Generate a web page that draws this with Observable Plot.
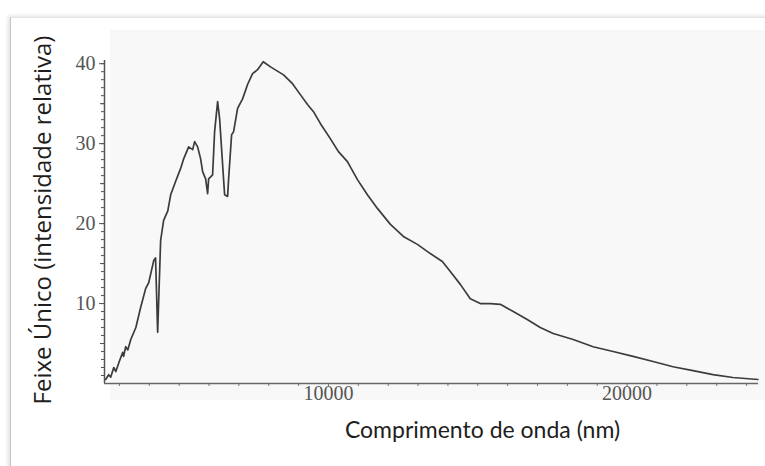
<!DOCTYPE html>
<html>
<head>
<meta charset="utf-8">
<script src="https://cdn.jsdelivr.net/npm/d3@7"></script>
<script src="https://cdn.jsdelivr.net/npm/@observablehq/plot@0.6"></script>
<style>
  html, body { margin: 0; padding: 0; background: #ffffff; }
  #wrap { position: relative; width: 765px; height: 466px; overflow: hidden; }
  #frame { position: absolute; left: 10px; top: 17px; width: 780px; height: 480px;
           border-left: 1px solid #c4c4c4; border-top: 1px solid #e2e2e2;
           box-shadow: -2px -1px 4px rgba(0,0,0,0.12); background: #ffffff; }
  #paper { position: absolute; left: 110px; top: 30px; width: 660px; height: 370px; background: #f8f8f8; }
  #chart { position: absolute; left: 0; top: 0; }
</style>
</head>
<body>
<div id="wrap">
  <div id="frame"></div>
  <div id="paper"></div>
  <div id="chart"></div>
</div>
<script>
// Wavelength (nm) and relative intensity
const wavelength = [2540, 2640, 2710, 2810, 2880, 2980, 3110, 3140, 3210, 3280, 3380, 3550, 3710, 3880, 3980, 4150, 4210, 4280, 4380, 4480, 4620,
  4716, 4883, 5050, 5151, 5318, 5452, 5518, 5619, 5719, 5786, 5886, 5953, 5987, 6120, 6187, 6288, 6355, 6455, 6522, 6622, 6656, 6756, 6823, 6957,
  7124, 7291, 7458, 7625, 7816, 8060, 8495, 8796, 9064, 9298, 9498, 9732, 10067, 10334, 10635, 10970, 11304, 11639, 12074, 12508, 12977, 13411,
  13813, 14080, 14415, 14749, 15084, 15418, 15753, 16187, 16656, 17090, 17525, 18194, 18863, 19532, 20201, 20870, 21538, 22207, 22876, 23545, 24381];
const intensity = [0.5, 1.1, 0.8, 2.0, 1.5, 2.6, 3.9, 3.4, 4.6, 4.2, 5.5, 7.0, 9.5, 11.9, 12.6, 15.4, 15.7, 6.4, 17.9, 20.4, 21.6,
  23.6, 25.3, 26.9, 28.1, 29.6, 29.25, 30.25, 29.6, 28.1, 26.5, 25.6, 23.75, 25.6, 26.1, 31.5, 35.25, 33.1, 27.4, 23.6, 23.4, 25.6, 31.1, 31.5, 34.4,
  35.6, 37.4, 38.75, 39.25, 40.25, 39.6, 38.6, 37.5, 36.1, 34.9, 34.0, 32.5, 30.6, 29.0, 27.75, 25.5, 23.6, 21.9, 19.9, 18.4, 17.4, 16.25,
  15.25, 14.0, 12.4, 10.6, 10.0, 10.0, 9.9, 9.0, 8.0, 7.0, 6.25, 5.5, 4.6, 4.0, 3.4, 2.75, 2.1, 1.6, 1.1, 0.75, 0.5];

const xDomain = [2500, 24400];
const yDomain = [0, 40.4];
const xTicks = d3.range(3000, 24001, 1000);
const xLabels = [10000, 20000];
const yMinor = d3.range(1, 41, 1);
const yFive = [5, 15, 25, 35];
const yLabels = [10, 20, 30, 40];
const yTitle = ["Feixe Único (intensidade relativa)"];
const xTitle = ["Comprimento de onda (nm)"];

const data = wavelength.map((w, i) => ({w, v: intensity[i]}));

const serif = "'Liberation Serif', 'DejaVu Serif', serif";
const ink = "#3c3c3c";

const chart = Plot.plot({
  width: 765,
  height: 466,
  marginLeft: 104,
  marginRight: 7,
  marginTop: 60,
  marginBottom: 83,
  style: {background: "transparent", overflow: "visible"},
  x: {domain: xDomain},
  y: {domain: yDomain},
  marks: [
    Plot.axisX({ticks: xTicks, tickSize: 3, tickFormat: () => "", stroke: "#777", label: null}),
    Plot.axisX({ticks: xLabels, tickSize: 0, tickPadding: 2, tickFormat: d => String(d),
      fontFamily: serif, fontSize: 20, fill: "#555", label: null}),
    Plot.axisY({ticks: yMinor, tickSize: 3, tickFormat: () => "", stroke: "#555", label: null}),
    Plot.axisY({ticks: yFive, tickSize: 4, tickFormat: () => "", stroke: "#555", label: null}),
    Plot.axisY({ticks: yLabels, tickSize: 5, tickPadding: 4, tickFormat: d => String(d),
      fontFamily: serif, fontSize: 20, fill: "#555", stroke: "#555", label: null}),
    Plot.ruleY([yDomain[0]], {x1: xDomain[0], x2: xDomain[1], stroke: "#666", strokeWidth: 1.3}),
    Plot.ruleX([xDomain[0]], {y1: yDomain[0], y2: yDomain[1], stroke: "#555", strokeWidth: 1.5}),
    Plot.line(data, {x: "w", y: "v", stroke: ink, strokeWidth: 1.7, strokeLinejoin: "round"}),
    Plot.text(yTitle, {frameAnchor: "left", dx: -61, dy: -2, rotate: -90, text: d => d,
      fontFamily: "'Open Sans', sans-serif", fontSize: 24, fill: "#1e1e1e", textAnchor: "middle"}),
    Plot.text(xTitle, {frameAnchor: "bottom", dx: 51, dy: 54, text: d => d,
      fontFamily: "Lato, sans-serif", fontSize: 23, fill: "#1e1e1e", textAnchor: "middle"})
  ]
});
document.getElementById("chart").appendChild(chart);
</script>
</body>
</html>
